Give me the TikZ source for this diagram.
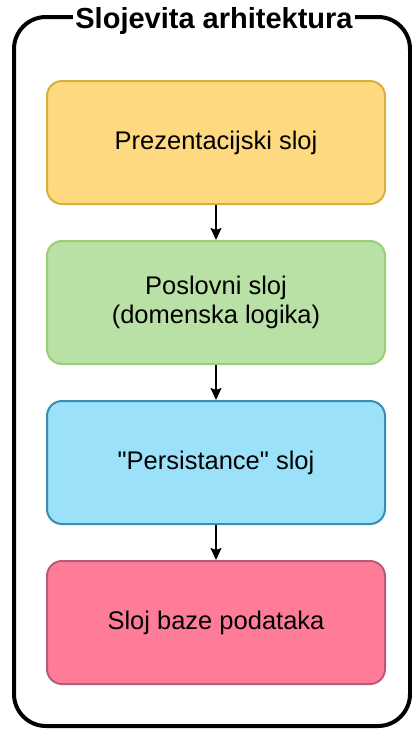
\documentclass[tikz,border=0pt]{standalone}
\usepackage{fontspec}
\setmainfont{Liberation Sans}[Ligatures=TeXOff]
\usetikzlibrary{arrows.meta,positioning}
\definecolor{fillpres}{HTML}{FFD97F}
\definecolor{drawpres}{HTML}{D6B040}
\definecolor{fillbiz}{HTML}{B9E0A5}
\definecolor{drawbiz}{HTML}{97D077}
\definecolor{fillpers}{HTML}{9AE1F9}
\definecolor{drawpers}{HTML}{3A8DB0}
\definecolor{filldb}{HTML}{FF7C99}
\definecolor{drawdb}{HTML}{B85B76}
\tikzstyle{layer}=[rectangle, rounded corners=15pt, minimum width=338pt, minimum height=123pt, line width=2pt, align=center, font=\fontsize{25.5}{29}\selectfont, inner sep=2pt]
\tikzstyle{frame}=[line width=4pt, rounded corners=32pt]
\begin{document}
\begin{tikzpicture}[x=1pt, y=-1pt, ->, >={Stealth[length=12pt,width=11pt,inset=2pt]}]
	\useasboundingbox (0, 0) rectangle (412, 729);
	
	\draw[frame, -] (14, 17) rectangle (410, 726);
	\node[fill=white, inner sep=2pt, font=\fontsize{29}{34}\selectfont\bfseries] at (214, 21) (title) {Slojevita arhitektura};
	
	\node[layer, fill=fillpres, draw=drawpres] at (216, 142.5) (pres) {Prezentacijski sloj};
	
	\node[layer, fill=fillbiz, draw=drawbiz] at (216, 302.5) (biz) {Poslovni sloj\\(domenska logika)};
	
	\node[layer, fill=fillpers, draw=drawpers] at (216, 462.5) (pers) {"Persistance" sloj};
	
	\node[layer, fill=filldb, draw=drawdb] at (216, 622.5) (db) {Sloj baze podataka};
	
	\path[line width=1.5pt] (pres) edge (biz);
	\path[line width=1.5pt] (biz) edge (pers);
	\path[line width=1.5pt] (pers) edge (db);
	
\end{tikzpicture}
\end{document}
